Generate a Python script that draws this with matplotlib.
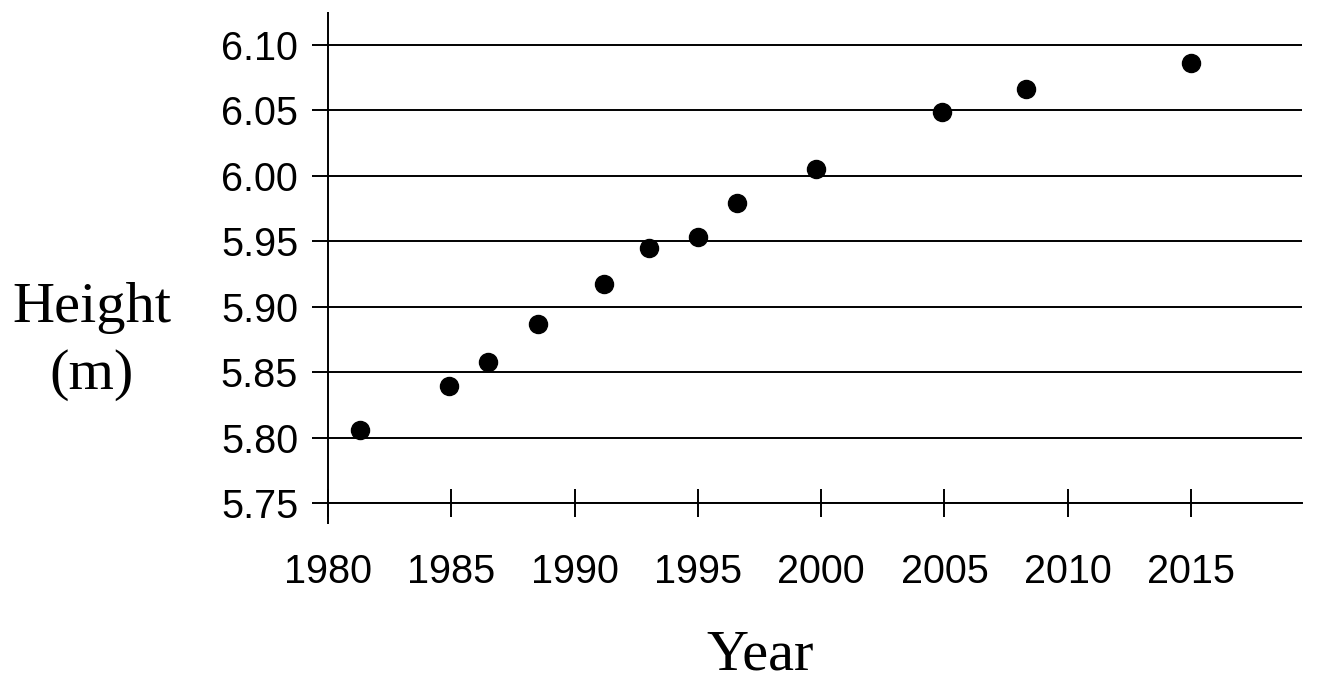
import matplotlib
matplotlib.use("Agg")
import matplotlib.pyplot as plt

years = [1981.3, 1984.9, 1986.5, 1988.5, 1991.2, 1993.0, 1995.0, 1996.6, 1999.8, 2004.9, 2008.3, 2015.0]
heights = [5.806, 5.839, 5.858, 5.887, 5.917, 5.945, 5.953, 5.979, 6.005, 6.049, 6.066, 6.086]
x_ticks = [1980, 1985, 1990, 1995, 2000, 2005, 2010, 2015]
y_ticks = [5.75, 5.80, 5.85, 5.90, 5.95, 6.00, 6.05, 6.10]
y_tick_labels = ["5.75", "5.80", "5.85", "5.90", "5.95", "6.00", "6.05", "6.10"]

W, H = 1324, 686
fig = plt.figure(figsize=(W / 100, H / 100), dpi=100)
ax = fig.add_axes([328 / W, 1 - 503 / H, (1302 - 328) / W, (503 - 12) / H])

lw = 1.4
ax.plot(years, heights, linestyle="none", marker="o", markersize=13,
        color="black", zorder=5, clip_on=False)

ax.set_xlim(1980, 2019.5)
ax.set_ylim(5.75, 6.125)
ax.set_xticks(x_ticks)
ax.set_xticklabels([str(v) for v in x_ticks], fontfamily="Liberation Sans", fontsize=28.5)
ax.set_yticks(y_ticks)
ax.set_yticklabels(y_tick_labels, fontfamily="Liberation Sans", fontsize=28.5)

ax.tick_params(axis="x", direction="inout", length=20, width=lw, pad=26, color="black")
ax.tick_params(axis="y", direction="out", length=11.5, width=lw, pad=10, color="black")

ax.grid(axis="y", color="black", linewidth=lw)
ax.grid(axis="x", visible=False)
for side in ["top", "right", "left"]:
    ax.spines[side].set_visible(False)
ax.spines["bottom"].set_linewidth(lw)
ax.spines["bottom"].set_color("black")
ax.plot([0, 0], [-21 / 491, 1], transform=ax.transAxes, color="black",
        linewidth=lw, clip_on=False, solid_capstyle="butt", zorder=6)

fig.text(92 / W, 1 - 322 / H, "Height", fontfamily="Liberation Serif", fontsize=42,
         ha="center", va="baseline")
fig.text(92 / W, 1 - 389 / H, "(m)", fontfamily="Liberation Serif", fontsize=42,
         ha="center", va="baseline")
fig.text(760 / W, 1 - 670 / H, "Year", fontfamily="Liberation Serif", fontsize=42,
         ha="center", va="baseline")

fig.savefig("out.png", dpi=100, facecolor="white")
